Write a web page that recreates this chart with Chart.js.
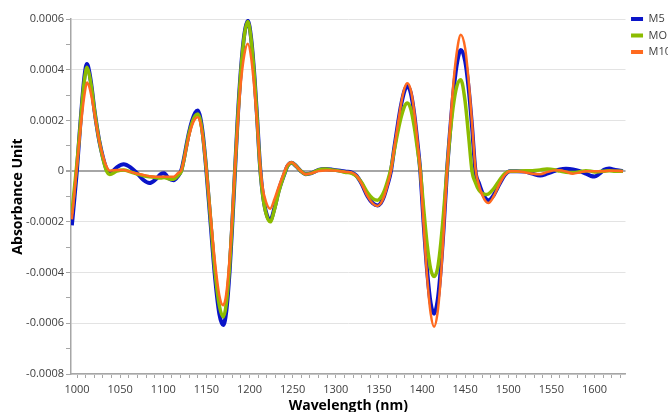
<!DOCTYPE html>
<html>
<head>
<meta charset="utf-8">
<script src="https://cdn.jsdelivr.net/npm/chart.js@4.4.1/dist/chart.umd.min.js"></script>
<style>
  html, body { margin: 0; padding: 0; background: #fff; overflow: hidden; }
  #wrap { width: 668px; height: 412px; overflow: hidden; }
  #box { width: 681px; height: 412px; }
</style>
</head>
<body>
<div id="wrap"><div id="box"><canvas id="spectraChart"></canvas></div></div>
<script>
// wavelength (nm) of every sample
const wavelengths = [
    994, 997, 1000, 1003, 1006, 1009, 1011.5, 1014, 1017, 1020, 1023, 1026, 1030, 1034, 1038,
    1046, 1054, 1062, 1070, 1077, 1084, 1091, 1097, 1101, 1106, 1112, 1117,
    1121, 1124, 1127, 1130, 1133.5, 1137, 1140, 1143, 1146,
    1150, 1155, 1160, 1165, 1169.5, 1173, 1177, 1180, 1183, 1186, 1190, 1194, 1198,
    1202, 1206, 1209, 1212, 1215, 1219, 1224, 1229, 1234,
    1240, 1244, 1249, 1254, 1259, 1265, 1272, 1280, 1288, 1296, 1305, 1312, 1318, 1324, 1330, 1337, 1343,
    1348.5, 1352, 1356, 1360, 1364, 1368, 1372, 1376, 1380, 1383, 1387, 1391, 1395, 1398,
    1402, 1406, 1410, 1414, 1418, 1421, 1425, 1429, 1432, 1436, 1440, 1445,
    1450, 1454, 1458, 1462, 1466, 1470, 1474, 1477, 1483, 1490, 1496, 1502,
    1510, 1520, 1528, 1537, 1545, 1553, 1560, 1567, 1575, 1583, 1590, 1596, 1600, 1605, 1611, 1617, 1624, 1633
]

// absorbance, in units of 0.0001
const m5 = [
    -2.14, -1.05, 0.1, 1.5, 2.8, 3.85, 4.23, 3.95, 3.3, 2.45, 1.75, 1.15, 0.55, 0.1, -0.08,
    0.15, 0.27, 0.15, -0.1, -0.35, -0.47, -0.33, -0.12, -0.08, -0.28, -0.36, -0.2,
    0.05, 0.5, 1.05, 1.55, 2.0, 2.3, 2.39, 2.1, 1.42,
    0.0, -2.11, -4.18, -5.63, -6.07, -5.55, -3.9, -2.1, -0.1, 1.9, 4.0, 5.4, 5.93,
    5.2, 3.6, 2.0, 0.3, -0.8, -1.6, -1.94, -1.45, -0.75,
    -0.15, 0.2, 0.33, 0.2, 0.02, -0.12, -0.08, 0.05, 0.08, 0.06, 0.02, -0.02, -0.05, -0.18, -0.5, -1.0, -1.27,
    -1.35, -1.27, -0.99, -0.54, 0.0, 0.95, 1.85, 2.65, 3.2, 3.37, 3.08, 2.25, 1.04, 0.0,
    -2.1, -3.95, -5.2, -5.62, -5.13, -4.17, -2.29, 0.0, 1.35, 2.95, 4.14, 4.78,
    4.35, 3.3, 1.77, 0.0, -0.47, -0.85, -1.09, -1.15, -0.95, -0.5, -0.15, 0.0,
    0.0, -0.02, -0.1, -0.17, -0.1, 0.0, 0.07, 0.09, 0.07, 0.0, -0.1, -0.19, -0.21, -0.12, 0.05, 0.1, 0.05, 0.0
]

const mo = [
    -1.67, -0.65, 0.35, 1.5, 2.75, 3.7, 4.1, 3.85, 3.25, 2.45, 1.75, 1.15, 0.5, 0.02, -0.13,
    0.0, 0.05, -0.03, -0.12, -0.18, -0.22, -0.25, -0.27, -0.25, -0.3, -0.32, -0.18,
    0.0, 0.45, 1.0, 1.5, 1.92, 2.18, 2.25, 2.0, 1.35,
    0.05, -1.95, -3.95, -5.3, -5.75, -5.25, -3.7, -2.0, 0.0, 1.85, 3.95, 5.35, 5.9,
    5.15, 3.55, 1.95, 0.25, -0.85, -1.65, -2.0, -1.5, -0.8,
    -0.15, 0.2, 0.33, 0.2, 0.02, -0.12, -0.08, 0.05, 0.08, 0.05, 0.0, -0.05, -0.08, -0.2, -0.45, -0.85, -1.08,
    -1.15, -1.05, -0.8, -0.4, 0.1, 0.85, 1.55, 2.15, 2.58, 2.69, 2.45, 1.75, 0.8, 0.05,
    -1.5, -2.9, -3.85, -4.15, -3.85, -3.1, -1.65, 0.05, 1.25, 2.5, 3.3, 3.6,
    2.75, 1.4, 0.0, -0.45, -0.75, -0.88, -0.92, -0.9, -0.7, -0.35, -0.1, 0.0,
    0.0, 0.02, 0.02, 0.05, 0.08, 0.06, 0.0, -0.04, -0.05, -0.02, 0.02, 0.0, -0.03, -0.02, 0.0, 0.02, 0.0, 0.0
]

const m10 = [
    -1.9, -0.85, 0.25, 1.3, 2.3, 3.1, 3.5, 3.35, 2.9, 2.3, 1.7, 1.15, 0.6, 0.2, 0.02,
    0.05, 0.05, -0.03, -0.1, -0.15, -0.2, -0.22, -0.22, -0.22, -0.22, -0.22, -0.08,
    0.05, 0.45, 0.95, 1.4, 1.82, 2.07, 2.13, 1.9, 1.3,
    0.05, -1.8, -3.6, -4.9, -5.29, -4.85, -3.4, -1.8, 0.05, 1.7, 3.5, 4.6, 5.02,
    4.45, 3.1, 1.8, 0.35, -0.6, -1.2, -1.48, -1.1, -0.6,
    -0.05, 0.25, 0.35, 0.2, 0.02, -0.12, -0.08, 0.0, 0.03, 0.03, 0.0, -0.03, -0.05, -0.18, -0.5, -1.0, -1.28,
    -1.37, -1.28, -1.0, -0.55, 0.0, 0.95, 1.85, 2.7, 3.3, 3.47, 3.2, 2.35, 1.1, 0.0,
    -2.2, -4.2, -5.6, -6.14, -5.6, -4.55, -2.5, 0.0, 1.5, 3.3, 4.6, 5.38,
    4.85, 3.6, 1.9, 0.1, -0.55, -0.95, -1.2, -1.26, -1.0, -0.5, -0.15, 0.0,
    0.0, -0.05, -0.1, -0.12, -0.04, 0.03, 0.04, -0.02, -0.1, -0.05, 0.0, 0.0, 0.0, 0.0, 0.0, 0.02, 0.02, 0.0
]

const UNIT = 0.0001

const xTickLabels = [1000, 1050, 1100, 1150, 1200, 1250, 1300, 1350, 1400, 1450, 1500, 1550, 1600]
const yTicks = [-0.0008, -0.0007, -0.0006, -0.0005, -0.0004, -0.0003, -0.0002, -0.0001,
    0, 0.0001, 0.0002, 0.0003, 0.0004, 0.0005, 0.0006]

const FONT = "'Open Sans', 'Noto Sans', sans-serif"

function toPoints(values) {
    return values.map((v, i) => ({ x: wavelengths[i], y: v * UNIT }))
}

function isMajorY(v) {
    return Math.round(v / UNIT) % 2 === 0
}

const ctx = document.getElementById("spectraChart")

new Chart(ctx, {
    type: "line",
    data: {
        datasets: [
            { label: "M5", data: toPoints(m5), borderColor: "#0a14c8", backgroundColor: "#0a14c8", borderWidth: 4, order: 3 },
            { label: "MO", data: toPoints(mo), borderColor: "#8cbc00", backgroundColor: "#8cbc00", borderWidth: 3.5, order: 2 },
            { label: "M10", data: toPoints(m10), borderColor: "#ff6a1f", backgroundColor: "#ff6a1f", borderWidth: 2.5, order: 1 }
        ]
    },
    options: {
        responsive: true,
        maintainAspectRatio: false,
        animation: false,
        layout: { padding: { top: 8, left: 0, right: 0, bottom: 0 } },
        elements: {
            point: { radius: 0 },
            line: { cubicInterpolationMode: "monotone", fill: false }
        },
        scales: {
            x: {
                type: "linear",
                min: 993,
                max: 1636,
                afterBuildTicks: function(scale) {
                    const ticks = []
                    for (let w = 1000; w <= 1630; w += 10) ticks.push({ value: w })
                    scale.ticks = ticks
                },
                afterFit: function(scale) {
                    scale.height = 38
                },
                ticks: {
                    autoSkip: false,
                    maxRotation: 0,
                    padding: 5,
                    color: "#404040",
                    font: { family: FONT, size: 11 },
                    callback: function(value) {
                        return xTickLabels.includes(value) ? String(value) : ""
                    }
                },
                grid: { drawOnChartArea: false, drawTicks: true, tickLength: 4, tickColor: "#a6a6a6" },
                border: { color: "#a6a6a6", width: 1.5 },
                title: {
                    display: true,
                    text: "Wavelength (nm)",
                    color: "#000",
                    font: { family: FONT, size: 14, weight: "bold" },
                    padding: { top: 0, bottom: -2 }
                }
            },
            y: {
                min: -0.0008,
                max: 0.0006,
                afterBuildTicks: function(scale) {
                    scale.ticks = yTicks.map(v => ({ value: v }))
                },
                afterFit: function(scale) {
                    scale.width = 71
                    scale.paddingTop = 19
                },
                ticks: {
                    padding: 2,
                    color: "#404040",
                    font: { family: FONT, size: 11 },
                    callback: function(value) {
                        if (!isMajorY(value)) return ""
                        return value === 0 ? "0" : value.toFixed(4)
                    }
                },
                grid: {
                    tickLength: 5,
                    tickColor: "#a6a6a6",
                    color: function(c) {
                        const v = c.tick ? c.tick.value : 1
                        if (v === 0) return "#a6a6a6"
                        return isMajorY(v) ? "#e3e3e3" : "rgba(0,0,0,0)"
                    },
                    lineWidth: function(c) {
                        return c.tick && c.tick.value === 0 ? 2 : 1
                    }
                },
                border: { color: "#a6a6a6", width: 1.5 },
                title: {
                    display: true,
                    text: "Absorbance Unit",
                    color: "#000",
                    font: { family: FONT, size: 14, weight: "bold" },
                    padding: { top: 10, bottom: 0 }
                }
            }
        },
        plugins: {
            tooltip: { enabled: false },
            legend: {
                position: "right",
                align: "start",
                labels: {
                    boxWidth: 12,
                    boxHeight: 4,
                    padding: 5.5,
                    color: "#404040",
                    font: { family: FONT, size: 11 },
                    sort: (a, b) => a.datasetIndex - b.datasetIndex,
                    generateLabels: function(chart) {
                        return Chart.defaults.plugins.legend.labels.generateLabels(chart).map(item => {
                            item.lineWidth = 0
                            item.fillStyle = item.strokeStyle
                            return item
                        })
                    }
                }
            }
        }
    }
})
</script>
</body>
</html>
